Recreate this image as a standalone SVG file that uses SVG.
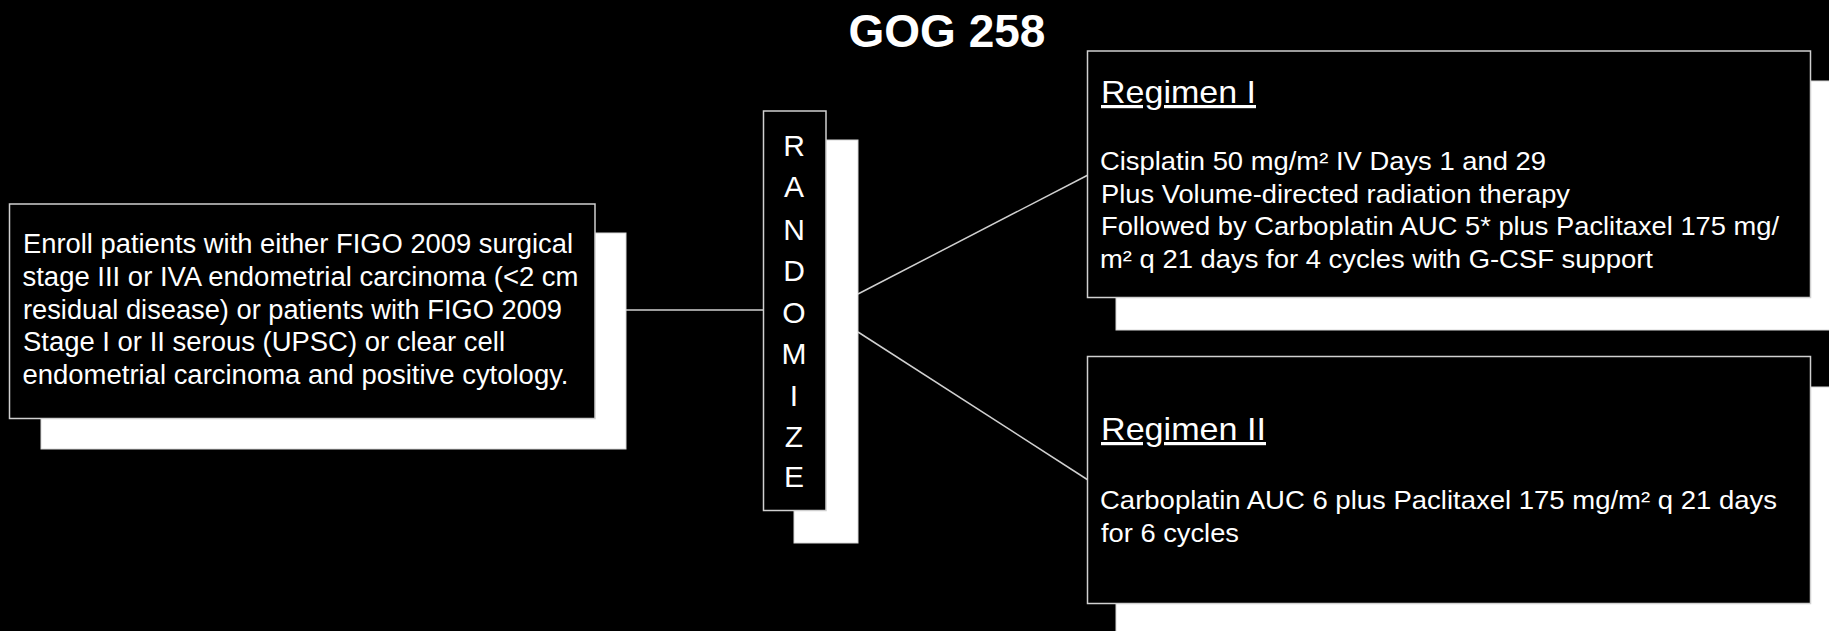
<svg xmlns="http://www.w3.org/2000/svg" width="1829" height="631" viewBox="0 0 1829 631">
<style>
.bg{fill:#000}
.shadow{fill:#fff;stroke:#d8d8d8;stroke-width:1}
.box{fill:#000;stroke:#d0d0d0;stroke-width:1.5}
.t{font-family:"Liberation Sans",Arial,sans-serif;fill:#fff}
.body{font-size:27px}
.rbody{font-size:26px}
.head{font-size:32px;text-decoration:underline}
.letter{font-size:30px;text-anchor:middle}
.title{font-size:46px;font-weight:bold;text-anchor:middle}
.conn{stroke:#d0d0d0;stroke-width:1.5;fill:none}
</style>
<rect class="bg" x="0" y="0" width="1829" height="631"/>
<text class="t title" x="947" y="47">GOG 258</text>
<g id="connectors">
<line class="conn" x1="626" y1="310" x2="764" y2="310"/>
<line class="conn" x1="858" y1="294" x2="1088" y2="175"/>
<line class="conn" x1="858" y1="332" x2="1088" y2="480"/>
</g>
<g id="enroll">
<rect class="shadow" x="41" y="233" width="585" height="216"/>
<rect class="box" x="9.5" y="204" width="585.5" height="214.5"/>
<text class="t body" x="23" y="253" textLength="550" lengthAdjust="spacingAndGlyphs">Enroll patients with either FIGO 2009 surgical</text>
<text class="t body" x="22.5" y="286" textLength="556" lengthAdjust="spacingAndGlyphs">stage III or IVA endometrial carcinoma (&lt;2 cm</text>
<text class="t body" x="23" y="319" textLength="539" lengthAdjust="spacingAndGlyphs">residual disease) or patients with FIGO 2009</text>
<text class="t body" x="23" y="351" textLength="482" lengthAdjust="spacingAndGlyphs">Stage I or II serous (UPSC) or clear cell</text>
<text class="t body" x="22.5" y="384" textLength="546" lengthAdjust="spacingAndGlyphs">endometrial carcinoma and positive cytology.</text>
</g>
<g id="randomize">
<rect class="shadow" x="794" y="140" width="64" height="403"/>
<rect class="box" x="763.5" y="111" width="62.5" height="399.5"/>
<text class="t letter" x="794" y="156">R</text>
<text class="t letter" x="794" y="197">A</text>
<text class="t letter" x="794" y="240">N</text>
<text class="t letter" x="794" y="281">D</text>
<text class="t letter" x="794" y="323">O</text>
<text class="t letter" x="794" y="364">M</text>
<text class="t letter" x="794" y="406">I</text>
<text class="t letter" x="794" y="447">Z</text>
<text class="t letter" x="794" y="487">E</text>
</g>
<g id="regimen1">
<rect class="shadow" x="1116" y="81" width="720" height="249"/>
<rect class="box" x="1087.5" y="51" width="723" height="246.5"/>
<text class="t head" x="1101" y="103" textLength="155" lengthAdjust="spacingAndGlyphs">Regimen I</text>
<text class="t rbody" x="1100" y="170" textLength="446" lengthAdjust="spacingAndGlyphs">Cisplatin 50 mg/m² IV Days 1 and 29</text>
<text class="t rbody" x="1101" y="203" textLength="469" lengthAdjust="spacingAndGlyphs">Plus Volume-directed radiation therapy</text>
<text class="t rbody" x="1101" y="235" textLength="678" lengthAdjust="spacingAndGlyphs">Followed by Carboplatin AUC 5* plus Paclitaxel 175 mg/</text>
<text class="t rbody" x="1100" y="268" textLength="553" lengthAdjust="spacingAndGlyphs">m² q 21 days for 4 cycles with G-CSF support</text>
</g>
<g id="regimen2">
<rect class="shadow" x="1116" y="387" width="720" height="260"/>
<rect class="box" x="1087.5" y="356.5" width="723" height="247"/>
<text class="t head" x="1101" y="440" textLength="165" lengthAdjust="spacingAndGlyphs">Regimen II</text>
<text class="t rbody" x="1100" y="509" textLength="677" lengthAdjust="spacingAndGlyphs">Carboplatin AUC 6 plus Paclitaxel 175 mg/m² q 21 days</text>
<text class="t rbody" x="1101" y="542" textLength="138" lengthAdjust="spacingAndGlyphs">for 6 cycles</text>
</g>
</svg>
